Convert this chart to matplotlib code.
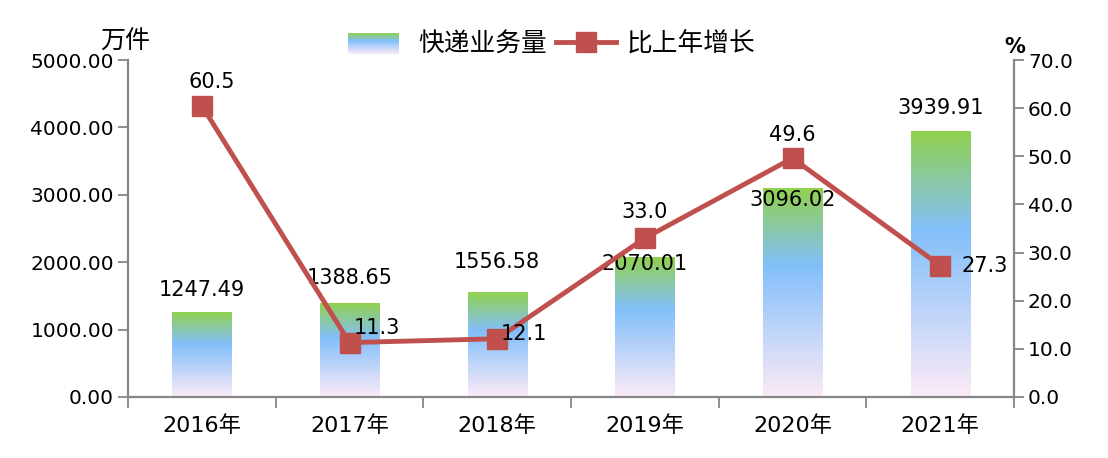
import matplotlib
matplotlib.use('Agg')
import matplotlib.pyplot as plt
import numpy as np
from matplotlib.colors import LinearSegmentedColormap
from matplotlib.legend_handler import HandlerBase
from matplotlib.image import BboxImage
from matplotlib.transforms import Bbox, TransformedBbox
from matplotlib.patches import Rectangle

plt.rcParams['font.family'] = ['DejaVu Sans', 'Noto Sans CJK SC']
plt.rcParams['axes.unicode_minus'] = False

years = ['2016年', '2017年', '2018年', '2019年', '2020年', '2021年']
volume = [1247.49, 1388.65, 1556.58, 2070.01, 3096.02, 3939.91]
growth = [60.5, 11.3, 12.1, 33.0, 49.6, 27.3]

# label offsets (pixels) relative to bar top / line point
bar_off = [(0, 23), (0, 25), (0, 30), (0, -7), (0, -12), (0, 23)]
line_off = [(10, 24), (27, 15), (27, 5), (0, 26), (0, 23), (45, 0)]

axis_c = '#868686'
line_c = '#C0504D'
cmap = LinearSegmentedColormap.from_list(
    'grad', [(0.0, (0.99, 0.92, 0.97)), (0.63, (0.51, 0.75, 0.98)), (1.0, (0.57, 0.82, 0.31))])
grad = np.linspace(1, 0, 256).reshape(-1, 1)

fig = plt.figure(figsize=(11.08, 4.58), dpi=100)
ax = fig.add_axes([128/1108, 1 - 397/458, (1014-128)/1108, (397-60)/458])

x = np.arange(len(years))
bars = ax.bar(x, volume, width=0.4, color='none', edgecolor='none')
for b in bars:
    x0, w, h = b.get_x(), b.get_width(), b.get_height()
    ax.imshow(grad, cmap=cmap, aspect='auto', extent=[x0, x0 + w, 0, h],
              interpolation='bicubic', vmin=0, vmax=1, zorder=2)
for i, v in enumerate(volume):
    ax.annotate(f'{v:.2f}', (x[i], v), xytext=bar_off[i], textcoords='offset pixels',
                ha='center', va='center', fontsize=15, zorder=5)

ax.set_xlim(-0.5, len(years) - 0.5)
ax.set_ylim(0, 5000)
ax.set_yticks(np.arange(0, 5001, 1000))
ax.set_yticklabels([f'{t:.2f}' for t in np.arange(0, 5001, 1000)])
ax.set_xticks(x)
ax.set_xticklabels(years)
ax.set_xticks(np.arange(-0.5, len(years), 1), minor=True)
ax.tick_params(axis='x', which='major', length=0, labelsize=16, pad=13)
ax.tick_params(axis='x', which='minor', length=8, color=axis_c, width=1.3)
ax.tick_params(axis='y', length=7, color=axis_c, width=1.3, labelsize=14.5, pad=3)
ax.spines['top'].set_visible(False)
ax.spines['right'].set_visible(False)
for s in ['left', 'bottom']:
    ax.spines[s].set_color(axis_c)
    ax.spines[s].set_linewidth(1.6)

ax2 = ax.twinx()
ln, = ax2.plot(x, growth, color=line_c, lw=3.5, marker='s', markersize=14,
               markerfacecolor=line_c, markeredgecolor=line_c, zorder=3)
for i, g in enumerate(growth):
    ax2.annotate(f'{g:.1f}', (x[i], g), xytext=line_off[i], textcoords='offset pixels',
                 ha='center', va='center', fontsize=15, zorder=5)
ax2.set_ylim(0, 70)
ax2.set_yticks(np.arange(0, 71, 10))
ax2.set_yticklabels([f'{t:.1f}' for t in np.arange(0, 71, 10)])
ax2.tick_params(axis='y', length=7, color=axis_c, width=1.3, labelsize=14.5, pad=3)
for s in ['top', 'left', 'bottom']:
    ax2.spines[s].set_visible(False)
ax2.spines['right'].set_color(axis_c)
ax2.spines['right'].set_linewidth(1.6)


class GradHandler(HandlerBase):
    def create_artists(self, legend, orig, xd, yd, w, h, fontsize, trans):
        bb = TransformedBbox(Bbox.from_bounds(-xd, -yd - 2, w * 0.85, h + 2), trans)
        im = BboxImage(bb, cmap=cmap, interpolation='bicubic', norm=plt.Normalize(0, 1))
        im.set_data(grad)
        return [im]


proxy = Rectangle((0, 0), 1, 1)
fig.legend([proxy, ln], ['快递业务量', '比上年增长'], handler_map={Rectangle: GradHandler()},
           loc='center', bbox_to_anchor=(552/1108, 1 - 44/458), ncol=2, frameon=False,
           handlelength=2.3, handletextpad=0.45, columnspacing=0.35,
           prop={'family': ['Noto Sans CJK SC', 'DejaVu Sans'], 'size': 18.5})

fig.text(125/1108, 1 - 42/458, '万件', ha='center', va='center', fontsize=18,
         family=['Noto Sans CJK SC', 'DejaVu Sans'])
fig.text(1015/1108, 1 - 47/458, '%', ha='center', va='center', fontsize=15, fontweight='bold')

fig.savefig('out.png', dpi=100)
